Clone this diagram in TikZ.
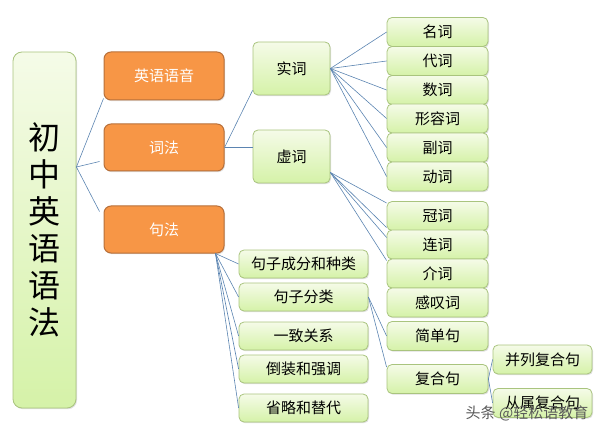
\documentclass[tikz,border=0pt]{standalone}
\usepackage{fontspec}
\setmainfont{Noto Sans CJK SC}
\usetikzlibrary{positioning,calc,shadows}
\definecolor{orangefill}{HTML}{F79646}
\definecolor{orangeline}{HTML}{B8703A}
\definecolor{greentop}{HTML}{F5FBE8}
\definecolor{greenbot}{HTML}{D5F2A8}
\definecolor{greenline}{HTML}{A9C47E}
\definecolor{linkblue}{HTML}{5B84B1}

\begin{document}
\begin{tikzpicture}[x=1pt,y=-1pt,
    greenbox/.style={draw=greenline, line width=0.8pt, rounded corners=5pt,
      top color=greentop, bottom color=greenbot, inner sep=0pt,
      font=\fontsize{15}{15}\selectfont,
      drop shadow={shadow xshift=1pt,shadow yshift=-1.2pt,opacity=0.25}},
    orangebox/.style={draw=orangeline, line width=1pt, rounded corners=7pt,
      fill=orangefill, text=white, inner sep=0pt,
      minimum width=120pt, minimum height=47pt,
      font=\fontsize{15}{15}\selectfont,
      drop shadow={shadow xshift=1pt,shadow yshift=-1.2pt,opacity=0.25}},
    link/.style={draw=linkblue, line width=0.6pt}]
  \useasboundingbox (0,0) rectangle (603,433);

  % root and first level
  \node[greenbox, rounded corners=9pt, minimum width=63pt, minimum height=356pt,
        align=center, font=\fontsize{32}{37}\selectfont] (root) at (44.5,230)
        {初\\中\\英\\语\\语\\法};
  \node[orangebox, minimum height=48pt] (yuyin) at (164,76) {英语语音};
  \node[orangebox] (cifa) at (164,147.5) {词法};
  \node[orangebox] (jufa) at (164,229.5) {句法};

  % word classes
  \node[greenbox, minimum width=77pt, minimum height=53pt] (shici) at (291.5,68.5) {实词};
  \node[greenbox, minimum width=77pt, minimum height=53pt] (xuci) at (291.5,156.5) {虚词};
  \foreach \name/\txt/\yy in {mingci/名词/32, daici/代词/61, shuci/数词/90,
      xingrongci/形容词/118.5, fuci/副词/147.5, dongci/动词/176.5,
      guanci/冠词/216, lianci/连词/244.5, jieci/介词/273.5, gantanci/感叹词/302.5,
      jdj/简单句/336, fhj/复合句/379}
    \node[greenbox, minimum width=101pt, minimum height=29pt] (\name) at (437.5,\yy) {\txt};

  % sentence topics
  \foreach \name/\txt/\yy in {jzcf/句子成分和种类/264, jzfl/句子分类/297,
      yzgx/一致关系/336, dzqd/倒装和强调/369, sltd/省略和替代/408}
    \node[greenbox, minimum width=129pt, minimum height=28pt] (\name) at (303.5,\yy) {\txt};
  \node[greenbox, minimum width=99pt, minimum height=29pt] (bl) at (542.5,359.5) {并列复合句};
  \node[greenbox, minimum width=99pt, minimum height=29pt] (cs) at (542.5,403) {从属复合句};

  % connectors
  \coordinate (rt) at ($(root.east)+(0,-63)$);
  \draw[link] (rt) -- ($(yuyin.south west)+(0,-2)$);
  \draw[link] (rt) -- ($(cifa.west)+(-4,14)$);
  \draw[link] (rt) -- ($(jufa.west)+(-4,-18)$);
  \draw[link] (cifa.east) -- ($(shici.south west)+(0,-5)$);
  \draw[link] (cifa.east) -- (cifa.east -| xuci.west);
  \foreach \name in {mingci,daici,shuci,xingrongci,fuci,dongci}
    \draw[link] (shici.east) -- (\name.west);
  \foreach \name/\dy in {guanci/-13,lianci/-17,jieci/-36,gantanci/-42}
    \draw[link] ($(xuci.east)+(0,16)$) -- ($(\name.west)+(0,\dy)$);
  \foreach \name in {jzcf,jzfl,yzgx,dzqd,sltd}
    \draw[link] ($(jufa.south east)+(-9,0)$) -- (\name.west);
  \draw[link] (jzfl.east) -- (jdj.west);
  \draw[link] (jzfl.east) -- ($(fhj.north west)+(0,3)$);
  \draw[link] (fhj.east) -- (bl.west);
  \draw[link] (fhj.east) -- (cs.west);

  % watermark
  \node[text=black!65, font=\fontsize{15}{15}\selectfont] (mark) at (527,413) {头条 @轻松语教育};
\end{tikzpicture}
\end{document}
